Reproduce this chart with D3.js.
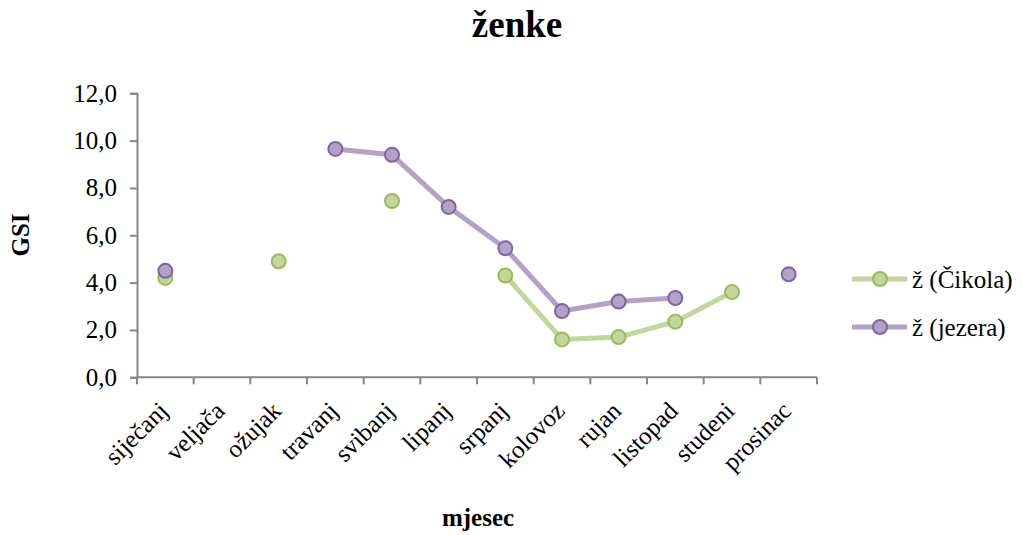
<!DOCTYPE html>
<html>
<head>
<meta charset="utf-8">
<script src="https://cdn.jsdelivr.net/npm/d3@7"></script>
<style>
  html, body { margin: 0; padding: 0; background: #fff; }
  svg { display: block; font-family: "Liberation Serif", "Times New Roman", serif; }
</style>
</head>
<body>
<svg id="chart" width="1022" height="535"></svg>
<script>
// Monthly GSI for females, two sampling sites (null = no sample)
const months = ["siječanj", "veljača", "ožujak", "travanj", "svibanj", "lipanj",
                "srpanj", "kolovoz", "rujan", "listopad", "studeni", "prosinac"];
const cikola = [4.2, null, 4.9, null, 7.45, null, 4.3, 1.6, 1.7, 2.35, 3.6, null];
const jezera = [4.5, null, null, 9.65, 9.4, 7.2, 5.45, 2.8, 3.2, 3.35, null, 4.35];
const yTicks = [0, 2, 4, 6, 8, 10, 12];

const seriesList = [
  { name: "ž (Čikola)", values: cikola, line: "#c3d69b", fill: "#c3d69b", stroke: "#9bbb59" },
  { name: "ž (jezera)", values: jezera, line: "#b3a2c7", fill: "#b3a2c7", stroke: "#8064a2" }
];

const svg = d3.select("#chart");
const plotLeft = 137, plotRight = 817, plotTop = 93.3, plotBottom = 377.3;
const fontSize = 25;

const x = d3.scaleBand().domain(months).range([plotLeft, plotRight]);
const y = d3.scaleLinear().domain([0, 12]).range([plotBottom, plotTop]);
const fmt = v => d3.format(".1f")(v).replace(".", ",");

// Y axis
const yAxis = svg.append("g")
  .attr("transform", `translate(${plotLeft},0)`)
  .call(d3.axisLeft(y).tickValues(yTicks).tickFormat(fmt).tickSizeOuter(0).tickSize(7).tickPadding(13));
yAxis.attr("font-family", null).attr("font-size", null);
yAxis.select(".domain").attr("stroke", "#868686").attr("stroke-width", 2);
yAxis.selectAll(".tick line").attr("stroke", "#868686").attr("stroke-width", 2);
yAxis.selectAll(".tick text").attr("font-size", fontSize).attr("fill", "#000");

// X axis: ticks on category boundaries
const xg = svg.append("g").attr("transform", `translate(0,${plotBottom})`);
xg.append("line").attr("x1", plotLeft).attr("x2", plotRight).attr("y1", 0).attr("y2", 0)
  .attr("stroke", "#868686").attr("stroke-width", 2);
const bounds = months.map(m => x(m)).concat([plotRight]);
xg.selectAll("line.tk").data(bounds).join("line").attr("class", "tk")
  .attr("x1", d => d).attr("x2", d => d).attr("y1", 0).attr("y2", 7)
  .attr("stroke", "#868686").attr("stroke-width", 2);
xg.selectAll("text").data(months).join("text")
  .attr("transform", d => `translate(${x(d) + x.bandwidth() / 2 + 4},${35}) rotate(-45)`)
  .attr("text-anchor", "end")
  .attr("font-size", fontSize)
  .text(d => d);

// Series lines and markers
const line = d3.line()
  .defined(d => d.v !== null)
  .x(d => x(d.m) + x.bandwidth() / 2)
  .y(d => y(d.v));

seriesList.forEach(s => {
  const pts = months.map((m, i) => ({ m, v: s.values[i] }));
  svg.append("path").datum(pts)
    .attr("d", line)
    .attr("fill", "none")
    .attr("stroke", s.line)
    .attr("stroke-width", 5)
    .attr("stroke-linejoin", "round");
  svg.append("g").selectAll("circle").data(pts.filter(d => d.v !== null)).join("circle")
    .attr("cx", d => x(d.m) + x.bandwidth() / 2)
    .attr("cy", d => y(d.v))
    .attr("r", 7)
    .attr("fill", s.fill)
    .attr("stroke", s.stroke)
    .attr("stroke-width", 2);
});

// Title and axis titles
svg.append("text").attr("x", 517).attr("y", 37).attr("text-anchor", "middle")
  .attr("font-size", 37).attr("font-weight", "bold").text("ženke");
svg.append("text").attr("transform", "translate(29,235) rotate(-90)")
  .attr("text-anchor", "middle").attr("font-size", fontSize).attr("font-weight", "bold").text("GSI");
svg.append("text").attr("x", 478).attr("y", 526).attr("text-anchor", "middle")
  .attr("font-size", fontSize).attr("font-weight", "bold").text("mjesec");

// Legend
const legend = svg.append("g");
seriesList.forEach((s, i) => {
  const ly = 279 + i * 48;
  legend.append("line").attr("x1", 852).attr("x2", 907).attr("y1", ly).attr("y2", ly)
    .attr("stroke", s.line).attr("stroke-width", 5);
  legend.append("circle").attr("cx", 880).attr("cy", ly).attr("r", 7)
    .attr("fill", s.fill).attr("stroke", s.stroke).attr("stroke-width", 2);
  legend.append("text").attr("x", 912).attr("y", ly).attr("dy", "0.35em")
    .attr("font-size", fontSize).text(s.name);
});
</script>
</body>
</html>
